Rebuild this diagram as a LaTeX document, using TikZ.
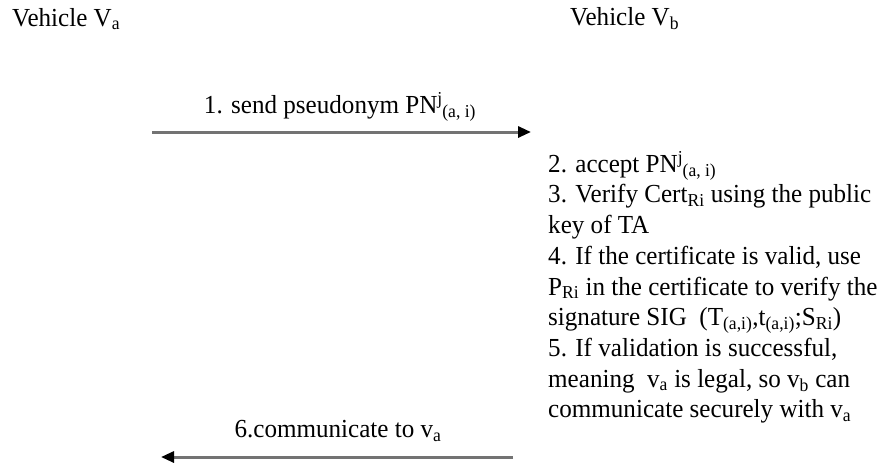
\documentclass[tikz,border=0pt]{standalone}
\usepackage{fontspec}
\setmainfont{Liberation Serif}[FakeStretch=0.965]
\usepackage{tikz}
\usetikzlibrary{arrows.meta, positioning}
\newcommand{\supsub}[2]{\textsuperscript{#1}\kern-0.5pt\textsubscript{#2}}

\begin{document}
\begin{tikzpicture}[
  x=1pt, y=-1pt,
  txt/.style={inner sep=0pt, font=\fontsize{26}{30.7}\selectfont},
  msg/.style={-{Triangle[length=13pt, width=11pt, color=black]}, draw=gray!90!black, line width=3pt},
]
\useasboundingbox (0,0) rectangle (890,466);

% --- the two vehicles ---
\node[txt, anchor=west] (va) at (12,19) {Vehicle V\textsubscript{a}};
\node[txt, anchor=west] (vb) at (570,19) {Vehicle V\textsubscript{b}};

% --- message ends ---
\coordinate (s1) at (152,132);
\coordinate (e1) at (531,132);
\coordinate (s6) at (513,457);
\coordinate (e6) at (161,457);

\draw[msg] (s1) -- (e1);
\node[txt] (m1) at (340,107) {1. send pseudonym PN\supsub{j}{(a, i)}};

% --- steps at vehicle Vb ---
\node[txt, anchor=north west, align=left] (steps) at (548,151) {
  2. accept PN\supsub{j}{(a, i)}\\
  3. Verify Cert\textsubscript{Ri} using the public\\
  key of TA\\
  4. If the certificate is valid, use\\
  P\textsubscript{Ri} in the certificate to verify the\\
  signature SIG \ (T\textsubscript{(a,i)},t\textsubscript{(a,i)};S\textsubscript{Ri})\\
  5. If validation is successful,\\
  meaning \ v\textsubscript{a} is legal, so v\textsubscript{b} can\\
  communicate securely with v\textsubscript{a}
};

\draw[msg] (s6) -- (e6);
\node[txt] (m6) at (338,431) {6.communicate to v\textsubscript{a}};
\end{tikzpicture}
\end{document}
